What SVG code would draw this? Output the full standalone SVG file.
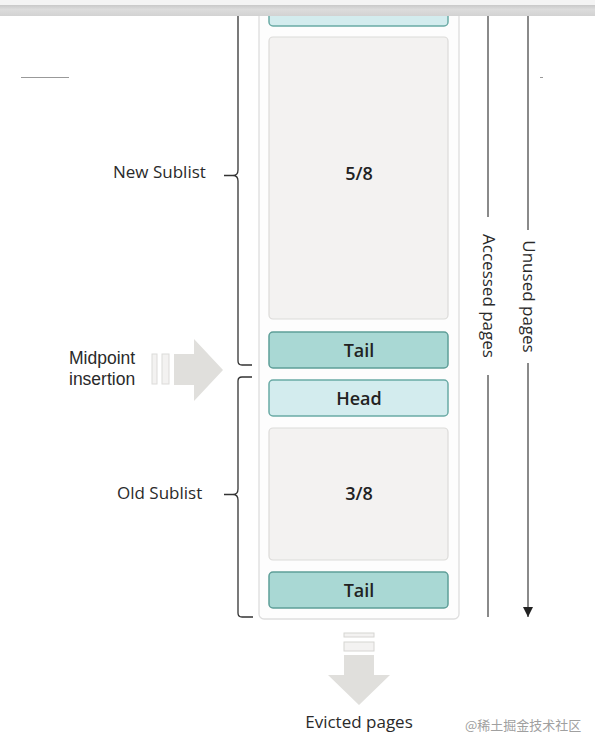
<svg xmlns="http://www.w3.org/2000/svg" width="595" height="752" viewBox="0 0 595 752">
  <defs>
    <linearGradient id="bar" x1="0" y1="0" x2="0" y2="1">
      <stop offset="0" stop-color="#c9c9c9"/>
      <stop offset="0.4" stop-color="#dcdcdc"/>
      <stop offset="1" stop-color="#d2d2d2"/>
    </linearGradient>
    <marker id="ah" markerWidth="10" markerHeight="10" refX="10" refY="5" orient="auto" markerUnits="userSpaceOnUse" viewBox="0 0 10 10">
      <path d="M0,0 L10,5 L0,10 Z" fill="#222"/>
    </marker>
  </defs>
  <style>
    .lbl { font-family: "Open Sans", "Liberation Sans", sans-serif; font-size: 17px; fill: #2a2a2a; }
    .lbl2 { font-family: "Liberation Sans", sans-serif; font-size: 17.5px; fill: #2a2a2a; }
    .box { font-family: "Open Sans", "Liberation Sans", sans-serif; font-size: 18px; font-weight: 600; fill: #222; text-anchor: middle; }
    .page { fill: #f3f2f1; stroke: #dcdbd9; stroke-width: 1.2; }
    .tail { fill: #a9d8d4; stroke: #5e9e98; stroke-width: 1.5; }
    .head { fill: #d3ecee; stroke: #6aaaa5; stroke-width: 1.5; }
    .brace { fill: none; stroke: #333; stroke-width: 1.3; }
    .vline { stroke: #8a8a8a; stroke-width: 2; fill: none; }
    .block { fill: #e0dfdc; }
  </style>
  <rect width="595" height="752" fill="#ffffff"/>

  <!-- container -->
  <g id="buffer">
    <rect x="259" y="-10" width="200" height="629" rx="5" fill="#fdfdfd" stroke="#dedede" stroke-width="1.3"/>
  </g>
  <g id="headTop"><rect x="269" y="-10" width="179" height="36" rx="4" class="head"/></g>
  <g id="new58">
    <rect x="269" y="37" width="179" height="282" rx="4" class="page"/>
    <text x="359" y="180" class="box">5/8</text>
  </g>
  <g id="tailNew">
    <rect x="269" y="332" width="179" height="36" rx="4" class="tail"/>
    <text x="359" y="357" class="box">Tail</text>
  </g>
  <g id="headOld">
    <rect x="269" y="380" width="179" height="36" rx="4" class="head"/>
    <text x="359" y="405" class="box">Head</text>
  </g>
  <g id="old38">
    <rect x="269" y="428" width="179" height="132" rx="4" class="page"/>
    <text x="359" y="500" class="box">3/8</text>
  </g>
  <g id="tailOld">
    <rect x="269" y="572" width="179" height="36" rx="4" class="tail"/>
    <text x="359" y="597" class="box">Tail</text>
  </g>

  <!-- braces and labels -->
  <g id="newSublist">
    <path class="brace" d="M238,10 V170 Q238,175.5 233,175.5 H224 M233,175.5 Q238,175.5 238,181 V361 Q238,365 242,365 H252"/>
    <text x="113" y="178" class="lbl">New Sublist</text>
  </g>
  <g id="oldSublist">
    <path class="brace" d="M252,377 H242 Q238,377 238,381 V489 Q238,494.5 233,494.5 H224 M233,494.5 Q238,494.5 238,500 V613 Q238,617 242,617 H253"/>
    <text x="117" y="499" class="lbl">Old Sublist</text>
  </g>

  <!-- midpoint insertion -->
  <g id="midpoint">
    <rect x="152" y="354" width="5" height="30" fill="#f3f2f1" stroke="#dcdbd9" stroke-width="1"/>
    <rect x="162" y="354" width="7" height="30" fill="#f3f2f1" stroke="#dcdbd9" stroke-width="1"/>
    <path class="block" d="M174,354 H194 V339 L223,370 L194,401 V385 H174 Z"/>
    <text x="69" y="364" class="lbl2">Midpoint</text>
    <text x="69" y="385" class="lbl2">insertion</text>
  </g>

  <!-- evicted -->
  <g id="evicted">
    <rect x="344" y="633" width="30" height="4" fill="#f3f2f1" stroke="#d6d5d2" stroke-width="1"/>
    <rect x="344" y="642" width="30" height="9" fill="#f3f2f1" stroke="#d6d5d2" stroke-width="1"/>
    <path class="block" d="M344,655 H374 V675 H390 L359,705 L328,675 H344 Z"/>
    <text x="359" y="728" class="lbl" text-anchor="middle">Evicted pages</text>
  </g>

  <!-- connectors -->
  <g id="connectors">
    <path class="vline" d="M488,10 V217 M488,375 V617"/>
    <path class="vline" d="M528,10 V230 M528,363 V617" marker-end="url(#ah)"/>
    <line x1="21" y1="77.5" x2="69" y2="77.5" stroke="#999" stroke-width="1"/>
    <line x1="540" y1="77.5" x2="543" y2="77.5" stroke="#999" stroke-width="1"/>
  </g>
  <g id="accessedLabel">
    <text class="lbl" transform="translate(483,296) rotate(90)" text-anchor="middle">Accessed pages</text>
  </g>
  <g id="unusedLabel">
    <text class="lbl" transform="translate(523,296.5) rotate(90)" text-anchor="middle">Unused pages</text>
  </g>

  <!-- top bar -->
  <rect x="0" y="0" width="595" height="5" fill="#f4f4f4"/>
  <rect x="0" y="5" width="595" height="11" fill="url(#bar)"/>

  <text x="465" y="730" font-family="Noto Sans CJK SC, sans-serif" font-size="13" fill="#a0a0a0">@稀土掘金技术社区</text>
</svg>
